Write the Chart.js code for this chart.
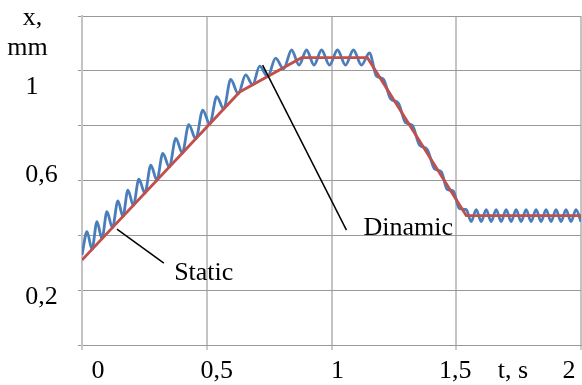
<!DOCTYPE html>
<html>
<head>
<meta charset="utf-8">
<script src="https://cdn.jsdelivr.net/npm/chart.js@4.4.0/dist/chart.umd.min.js"></script>
<style>
html,body{margin:0;padding:0;background:#fff;}
canvas{display:block;}
</style>
</head>
<body>
<canvas id="chart" width="582" height="385"></canvas>
<script>
// static curve, t in s, x in mm
const tStatic=[0,0.632,0.88,1.144,1.54,2.0];
const xStatic=[0.310,0.923,1.048,1.048,0.472,0.472];

// dynamic curve, peaks and troughs
const tDynamic=[
  0,0.020,0.040,0.060,0.080,0.100,0.122,0.144,0.164,0.184,0.206,0.228,0.252,0.276,0.300,
  0.324,0.350,0.376,0.402,0.428,0.456,0.484,0.512,0.540,0.568,0.596,0.626,0.656,0.684,
  0.712,0.744,0.776,0.808,0.840,0.870,0.900,0.930,0.960,0.992,1.024,1.056,1.088,1.120,1.152,
  1.180,1.208,1.236,1.268,1.296,1.324,1.352,1.384,1.412,1.440,1.464,1.488,1.512,
  1.540,1.560,1.580,1.600,1.620,1.640,1.660,1.680,1.700,1.720,1.740,1.760,
  1.780,1.800,1.820,1.840,1.860,1.880,1.900,1.920,1.940,1.960,1.980,2.000
];
const xDynamic=[
  0.328,0.413,0.349,0.450,0.388,0.486,0.428,0.526,0.469,0.565,0.509,0.605,0.554,0.656,0.601,
  0.699,0.649,0.754,0.700,0.804,0.752,0.857,0.806,0.906,0.861,0.969,0.917,0.985,0.949,
  1.017,0.979,1.046,1.007,1.076,1.021,1.076,1.021,1.076,1.021,1.076,1.021,1.076,1.021,1.065,
  0.981,0.970,0.899,0.882,0.812,0.801,0.730,0.713,0.643,0.632,0.567,0.562,0.498,
  0.494,0.450,0.494,0.450,0.494,0.450,0.494,0.450,0.494,0.450,0.494,0.450,
  0.494,0.450,0.494,0.450,0.494,0.450,0.494,0.450,0.494,0.450,0.494,0.450
];

const xTicks=[0,0.5,1,1.5,2];
const xTickText=["0","0,5","1","1,5","2"];
const yTicks=[0.2,0.6,1];
const yTickText=["0,2","0,6","1"];

const FONT='26px "Liberation Serif", "Times New Roman", serif';

// excel text boxes sit a bit off the grid lines
const xNudge=[16,10,6,-1,-12];
const yLabelX=[41.5,41.5,32];
const yNudge=[14,1.3,23];

const notes=[
  {text:"Static",from:[0.14,0.423],to:[0.328,0.299],at:[0.488,0.237]},
  {text:"Dinamic",from:[0.724,1.021],to:[1.06,0.419],at:[1.308,0.403]}
];

const pts=(t,v)=>t.map((a,i)=>({x:a,y:v[i]}));

const labels={
  id:"labels",
  afterDraw(c){
    const {ctx,scales:{x,y}}=c;
    ctx.save();
    ctx.font=FONT;
    ctx.fillStyle="#000";
    ctx.textAlign="center";
    ctx.textBaseline="alphabetic";
    xTicks.forEach((v,i)=>ctx.fillText(xTickText[i],x.getPixelForValue(v)+xNudge[i],378));
    yTicks.forEach((v,i)=>ctx.fillText(yTickText[i],yLabelX[i],y.getPixelForValue(v)+yNudge[i]));
    ctx.fillText("t, s",513,378);
    ctx.fillText("x,",32.5,25);
    ctx.fillText("mm",27.5,55);
    ctx.strokeStyle="#000";
    ctx.lineWidth=1.5;
    notes.forEach(n=>{
      ctx.beginPath();
      ctx.moveTo(x.getPixelForValue(n.from[0]),y.getPixelForValue(n.from[1]));
      ctx.lineTo(x.getPixelForValue(n.to[0]),y.getPixelForValue(n.to[1]));
      ctx.stroke();
      ctx.fillText(n.text,x.getPixelForValue(n.at[0]),y.getPixelForValue(n.at[1]));
    });
    ctx.restore();
  }
};

new Chart(document.getElementById("chart"),{
  type:"line",
  data:{
    datasets:[
      {label:"Static",data:pts(tStatic,xStatic),borderColor:"#C0504D",borderWidth:2.8,pointRadius:0,tension:0},
      {label:"Dinamic",data:pts(tDynamic,xDynamic),borderColor:"#4A7EBB",borderWidth:2.8,pointRadius:0,cubicInterpolationMode:"monotone"}
    ]
  },
  options:{
    responsive:false,
    animation:false,
    devicePixelRatio:1,
    layout:{padding:{left:78,top:16,right:1,bottom:35}},
    plugins:{legend:{display:false},tooltip:{enabled:false}},
    scales:{
      x:{
        type:"linear",min:0,max:2,
        ticks:{stepSize:0.5,display:false},
        grid:{color:"#c4c4c4",lineWidth:2,tickLength:5,tickColor:"#999",tickWidth:1},
        border:{color:"#999",width:1},
        afterFit(s){s.height=5;}
      },
      y:{
        min:0,max:1.2,
        ticks:{stepSize:0.2,display:false},
        grid:{color:"#999",lineWidth:1,tickLength:4},
        border:{color:"#c4c4c4",width:2},
        afterFit(s){s.width=4;}
      }
    }
  },
  plugins:[labels]
});
</script>
</body>
</html>
